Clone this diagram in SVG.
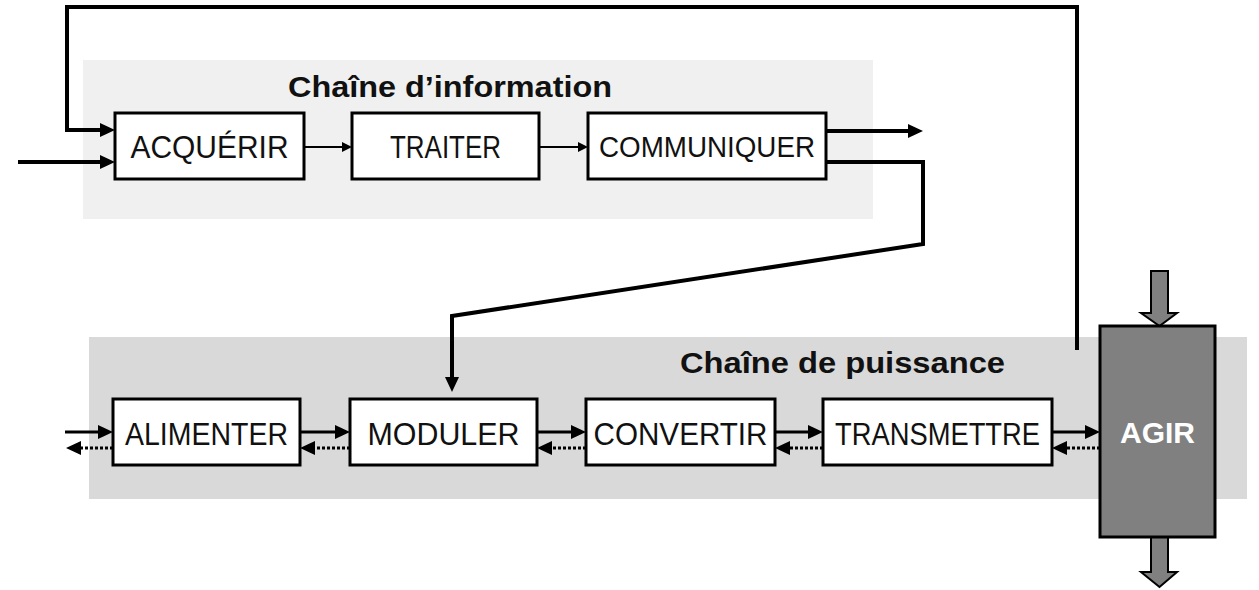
<svg xmlns="http://www.w3.org/2000/svg" width="1259" height="590" viewBox="0 0 1259 590">
  <style>
    .box { fill: #ffffff; stroke: #000000; stroke-width: 3; }
    .lbl { font-family: "Liberation Sans", Arial, sans-serif; font-size: 32px; fill: #111111; text-anchor: middle; }
    .title { font-family: "Liberation Sans", Arial, sans-serif; font-size: 29px; font-weight: bold; fill: #111111; }
    .thick { fill: none; stroke: #000000; stroke-width: 4; }
    .mid { fill: none; stroke: #000000; stroke-width: 3; }
    .thin { fill: none; stroke: #000000; stroke-width: 2; }
    .dot { fill: none; stroke: #000000; stroke-width: 3; stroke-dasharray: 3 2; }
    .flow { fill: #808080; stroke: #000000; stroke-width: 2; stroke-linejoin: miter; }
  </style>
  <defs>
    <marker id="head" viewBox="0 0 15 14" refX="0" refY="7" markerWidth="15" markerHeight="14" markerUnits="userSpaceOnUse" orient="auto">
      <path d="M0,0 L15,7 L0,14 z" fill="#000000"/>
    </marker>
    <marker id="headSm" viewBox="0 0 10 10" refX="0" refY="5" markerWidth="10" markerHeight="10" markerUnits="userSpaceOnUse" orient="auto">
      <path d="M0,0 L10,5 L0,10 z" fill="#000000"/>
    </marker>
  </defs>

  <!-- chain backgrounds -->
  <rect x="83" y="60" width="790" height="159" fill="#f0f0f0"/>
  <rect x="89" y="337" width="1158" height="162" fill="#d9d9d9"/>

  <text class="title" x="288" y="97" textLength="324" lengthAdjust="spacingAndGlyphs">Chaîne d’information</text>
  <text class="title" x="680" y="373" textLength="325" lengthAdjust="spacingAndGlyphs">Chaîne de puissance</text>

  <!-- connectors -->
  <g id="connectors">
    <path class="thick" d="M1077,350 V7 H67 V130 H100" marker-end="url(#head)"/>
    <path class="thick" d="M18,162 H100" marker-end="url(#head)"/>
    <path class="thin" d="M304,147 H342" marker-end="url(#headSm)"/>
    <path class="thin" d="M539,147 H578" marker-end="url(#headSm)"/>
    <path class="thick" d="M826,131 H908" marker-end="url(#head)"/>
    <path class="thick" d="M826,162 H923 V244 L452,316 V377" marker-end="url(#head)"/>

    <path class="mid" d="M65,432 H98" marker-end="url(#head)"/>
    <path class="mid" d="M300,432 H335" marker-end="url(#head)"/>
    <path class="mid" d="M537,432 H571" marker-end="url(#head)"/>
    <path class="mid" d="M775,432 H808" marker-end="url(#head)"/>
    <path class="mid" d="M1052,432 H1085" marker-end="url(#head)"/>

    <path class="dot" d="M113,448 H81" marker-end="url(#head)"/>
    <path class="dot" d="M350,448 H315" marker-end="url(#head)"/>
    <path class="dot" d="M586,448 H552" marker-end="url(#head)"/>
    <path class="dot" d="M823,448 H790" marker-end="url(#head)"/>
    <path class="dot" d="M1100,448 H1067" marker-end="url(#head)"/>
  </g>

  <!-- information chain -->
  <g id="acquerir">
    <rect class="box" x="115" y="113" width="189" height="66"/>
    <text class="lbl" x="209.5" y="158" textLength="158" lengthAdjust="spacingAndGlyphs">ACQUÉRIR</text>
  </g>
  <g id="traiter">
    <rect class="box" x="352" y="113" width="187" height="66"/>
    <text class="lbl" x="445.5" y="158" textLength="111" lengthAdjust="spacingAndGlyphs">TRAITER</text>
  </g>
  <g id="communiquer">
    <rect class="box" x="588" y="113" width="238" height="66"/>
    <text class="lbl" x="707" y="157" style="font-size:29px" textLength="216" lengthAdjust="spacingAndGlyphs">COMMUNIQUER</text>
  </g>

  <!-- power chain -->
  <g id="alimenter">
    <rect class="box" x="113" y="399" width="187" height="66"/>
    <text class="lbl" x="206.5" y="445" textLength="163" lengthAdjust="spacingAndGlyphs">ALIMENTER</text>
  </g>
  <g id="moduler">
    <rect class="box" x="350" y="399" width="187" height="66"/>
    <text class="lbl" x="443.5" y="445" textLength="152" lengthAdjust="spacingAndGlyphs">MODULER</text>
  </g>
  <g id="convertir">
    <rect class="box" x="586" y="399" width="189" height="66"/>
    <text class="lbl" x="680.5" y="445" textLength="174" lengthAdjust="spacingAndGlyphs">CONVERTIR</text>
  </g>
  <g id="transmettre">
    <rect class="box" x="823" y="399" width="229" height="66"/>
    <text class="lbl" x="937.5" y="445" textLength="205" lengthAdjust="spacingAndGlyphs">TRANSMETTRE</text>
  </g>

  <g id="agir">
    <polygon class="flow" points="1151,271 1168,271 1168,313 1177,313 1159.5,326 1141,313 1151,313"/>
    <polygon class="flow" points="1151,537 1168,537 1168,572 1177,572 1159.5,587 1141,572 1151,572"/>
    <rect x="1100" y="326" width="115" height="211" fill="#808080" stroke="#000000" stroke-width="3"/>
    <text x="1157.5" y="443" font-family="'Liberation Sans', Arial, sans-serif" font-size="30" font-weight="bold" fill="#ffffff" text-anchor="middle" textLength="75" lengthAdjust="spacingAndGlyphs">AGIR</text>
  </g>
</svg>
